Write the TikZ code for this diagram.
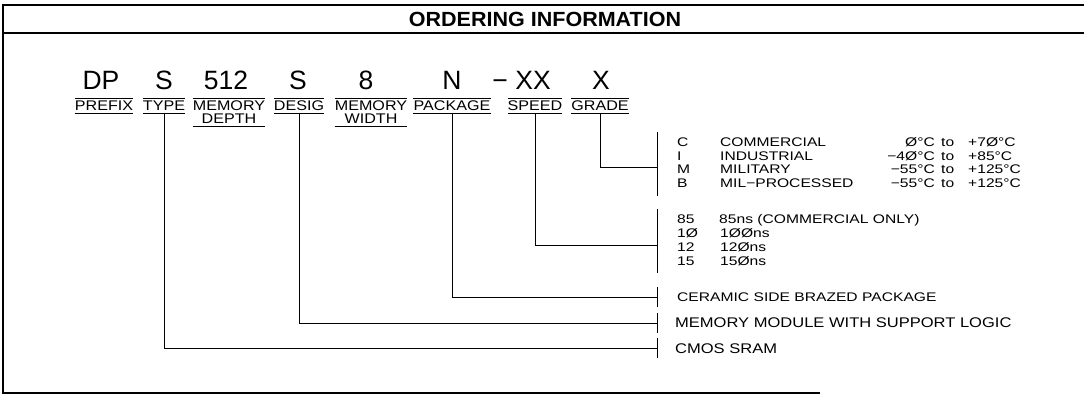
\documentclass[tikz,border=0pt]{standalone}
\usepackage{fontspec}
\setmainfont{Liberation Sans}
\newfontfamily\codefont{Liberation Sans}
\newfontfamily\lblfont[FakeStretch=1.15]{Liberation Sans}
\newfontfamily\txtfont[FakeStretch=1.25]{Liberation Sans}
\newfontfamily\txtfontb[FakeStretch=1.18]{Liberation Sans}
\newfontfamily\ttlfont[FakeStretch=1.05]{Liberation Sans}
\usetikzlibrary{calc}
\begin{document}
\begin{tikzpicture}[x=1pt,y=-1pt,
  frame/.style={line width=1.6pt},
  conn/.style={line width=0.9pt},
  oline/.style={line width=0.6pt},
  code/.style={anchor=base,inner sep=0pt,font=\codefont\fontsize{26.5}{28}\selectfont},
  lbl/.style={anchor=base,inner sep=0pt,font=\lblfont\fontsize{14}{12}\selectfont},
  rtxt/.style={anchor=base west,inner sep=0pt,font=\txtfont\fontsize{12.5}{13}\selectfont},
  rtxte/.style={anchor=base east,inner sep=0pt,font=\txtfont\fontsize{12.5}{13}\selectfont},
  rtxtb/.style={anchor=base west,inner sep=0pt,font=\txtfontb\fontsize{14}{15}\selectfont},
  ttl/.style={anchor=base,inner sep=0pt,font=\ttlfont\bfseries\fontsize{20.5}{22}\selectfont}]
\useasboundingbox (0,0) rectangle (1084,398);
% frame
\draw[frame] (1084,5) -- (3,5) -- (3,393) -- (820,393);
\draw[frame] (3,33) -- (1084,33);
\node[ttl] (title) at (545,27) {ORDERING INFORMATION};
% codes
\node[code] (cDP) at (101,90) {DP};
\node[code] (cS1) at (164,90) {S};
\node[code] (c512) at (226,90) {512};
\node[code] (cS2) at (298,90) {S};
\node[code] (c8) at (366,90) {8};
\node[code] (cN) at (452,90) {N};
\node[code] (cDash) at (500,90) {\char"2212};
\node[code] (cXX) at (533,90) {XX};
\node[code] (cX) at (601,90) {X};
% labels
\node[lbl] (lPre) at (104,111) {PREFIX};
\node[lbl] (lType) at (164,111) {TYPE};
\node[lbl] (lMD1) at (229,111) {MEMORY};
\node[lbl] (lMD2) at (229,124) {DEPTH};
\node[lbl] (lDes) at (299,111) {DESIG};
\node[lbl] (lMW1) at (371,111) {MEMORY};
\node[lbl] (lMW2) at (371,124) {WIDTH};
\node[lbl] (lPak) at (452,111) {PACKAGE};
\node[lbl] (lSpd) at (535,111) {SPEED};
\node[lbl] (lGrd) at (600,111) {GRADE};
% over- and underlines
\foreach \n in {lPre,lType,lDes,lPak,lSpd,lGrd}{
  \draw[oline] ($(\n.west |- \n.base)+(0,-12.5)$) -- ($(\n.east |- \n.base)+(0,-12.5)$);
  \draw[conn] ($(\n.west |- \n.base)+(0,2)$) -- ($(\n.east |- \n.base)+(0,2)$);
}
\draw[oline] ($(lMD1.west |- lMD1.base)+(0,-12.5)$) -- ($(lMD1.east |- lMD1.base)+(0,-12.5)$);
\draw[conn] ($(lMD1.west |- lMD2.base)+(0,2.5)$) -- ($(lMD1.east |- lMD2.base)+(0,2.5)$);
\draw[oline] ($(lMW1.west |- lMW1.base)+(0,-12.5)$) -- ($(lMW1.east |- lMW1.base)+(0,-12.5)$);
\draw[conn] ($(lMW1.west |- lMW2.base)+(0,2.5)$) -- ($(lMW1.east |- lMW2.base)+(0,2.5)$);
% tick coordinates
\coordinate (kGrd) at (657,167);
\coordinate (kSpd) at (657,245);
\coordinate (kPak) at (657,297);
\coordinate (kDes) at (657,323);
\coordinate (kType) at (657,348);
% brackets
\draw[conn] (657,132) -- (657,196);
\draw[conn] (657,209) -- (657,273);
\draw[conn] ($(kPak)+(0,-10)$) -- ($(kPak)+(0,10)$);
\draw[conn] ($(kDes)+(0,-10)$) -- ($(kDes)+(0,10)$);
\draw[conn] ($(kType)+(0,-10)$) -- ($(kType)+(0,10)$);
% connectors
\draw[conn] ($(lGrd.base)+(0,2)$) |- (kGrd);
\draw[conn] ($(lSpd.base)+(0,2)$) |- (kSpd);
\draw[conn] ($(lPak.base)+(0,2)$) |- (kPak);
\draw[conn] ($(lDes.base)+(0,2)$) |- (kDes);
\draw[conn] ($(lType.base)+(0,2)$) |- (kType);
% grade rows
\node[rtxt] (g1a) at (677,146.5) {C};
\node[rtxt] (g1b) at (720,146.5) {COMMERCIAL};
\node[rtxte] (g1c) at (935,146.5) {Ø°C};
\node[rtxt] (g1d) at (941,146.5) {to};
\node[rtxt] (g1e) at (968,146.5) {+7Ø°C};
\node[rtxt] (g2a) at (677,160.5) {I};
\node[rtxt] (g2b) at (720,160.5) {INDUSTRIAL};
\node[rtxte] (g2c) at (935,160.5) {\char"2212 4Ø°C};
\node[rtxt] (g2d) at (941,160.5) {to};
\node[rtxt] (g2e) at (968,160.5) {+85°C};
\node[rtxt] (g3a) at (677,173.5) {M};
\node[rtxt] (g3b) at (720,173.5) {MILITARY};
\node[rtxte] (g3c) at (935,173.5) {\char"2212 55°C};
\node[rtxt] (g3d) at (941,173.5) {to};
\node[rtxt] (g3e) at (968,173.5) {+125°C};
\node[rtxt] (g4a) at (677,187.5) {B};
\node[rtxt] (g4b) at (720,187.5) {MIL\char"2212 PROCESSED};
\node[rtxte] (g4c) at (935,187.5) {\char"2212 55°C};
\node[rtxt] (g4d) at (941,187.5) {to};
\node[rtxt] (g4e) at (968,187.5) {+125°C};
% speed rows
\node[rtxt] (s1a) at (677,223.5) {85};
\node[rtxt] (s1b) at (719,223.5) {85ns (COMMERCIAL ONLY)};
\node[rtxt] (s2a) at (677,237.5) {1Ø};
\node[rtxt] (s2b) at (720,237.5) {1ØØns};
\node[rtxt] (s3a) at (677,251.5) {12};
\node[rtxt] (s3b) at (720,251.5) {12Øns};
\node[rtxt] (s4a) at (677,265.5) {15};
\node[rtxt] (s4b) at (720,265.5) {15Øns};
% single entries
\node[rtxt] (tPak) at (677,301.5) {CERAMIC SIDE BRAZED PACKAGE};
\node[rtxtb] (tDes) at (675,327.5) {MEMORY MODULE WITH SUPPORT LOGIC};
\node[rtxtb] (tType) at (675,353) {CMOS SRAM};
\end{tikzpicture}
\end{document}
